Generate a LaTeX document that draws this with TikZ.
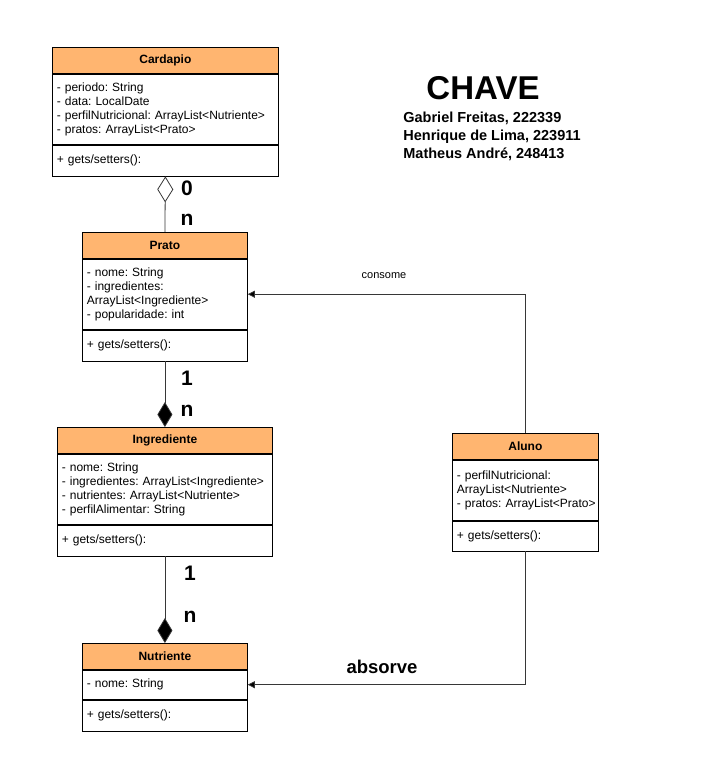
\documentclass[tikz,border=0pt]{standalone}
\usepackage{fontspec}
\setmainfont{Liberation Sans}
\frenchspacing
\hyphenpenalty=10000
\definecolor{headorange}{RGB}{255, 181, 112}
\definecolor{linegray}{RGB}{55, 55, 55}
\usetikzlibrary{arrows.meta, positioning}

\tikzset{
  umlhead/.style={draw=black, fill=headorange, anchor=north west, minimum height=26, inner sep=0pt, font=\fontsize{12}{14}\selectfont\bfseries},
  umlbody/.style={draw=black, fill=white, align=left, inner xsep=4.5pt, inner ysep=0pt, font=\fontsize{12}{14.2}\selectfont},
  mult/.style={font=\fontsize{21}{24}\selectfont\bfseries},
  link/.style={draw=linegray, line width=0.8pt},
}

\begin{document}
\begin{tikzpicture}[x=1pt, y=-1pt, line width=0.8pt]
  \fill[white] (0,0) rectangle (720,781);
  \useasboundingbox (0,0) rectangle (720,781);

  % Cardapio
  \node[umlhead, minimum width=226] (cardapio) at (52,47) {Cardapio};
  \node[umlbody, text width=217, minimum height=70, below=0pt of cardapio] (cardapioattr) {- periodo: String\\- data: LocalDate\\- perfilNutricional: ArrayList<Nutriente>\\- pratos: ArrayList<Prato>};
  \node[umlbody, text width=217, minimum height=31, below=0pt of cardapioattr] (cardapiometh) {+ gets/setters():};

  % Prato
  \node[umlhead, minimum width=165] (prato) at (82,232) {Prato};
  \node[umlbody, text width=156, minimum height=70, below=0pt of prato] (pratoattr) {- nome: String\\- ingredientes:\\ArrayList<Ingrediente>\\- popularidade: int};
  \node[umlbody, text width=156, minimum height=31, below=0pt of pratoattr] (pratometh) {+ gets/setters():};

  % Ingrediente
  \node[umlhead, minimum width=215] (ingrediente) at (57,427) {Ingrediente};
  \node[umlbody, text width=206, minimum height=70, below=0pt of ingrediente] (ingredienteattr) {- nome: String\\- ingredientes: ArrayList<Ingrediente>\\- nutrientes: ArrayList<Nutriente>\\- perfilAlimentar: String};
  \node[umlbody, text width=206, minimum height=31, below=0pt of ingredienteattr] (ingredientemeth) {+ gets/setters():};

  % Nutriente
  \node[umlhead, minimum width=165] (nutriente) at (82,643) {Nutriente};
  \node[umlbody, text width=156, minimum height=29, below=0pt of nutriente] (nutrienteattr) {- nome: String};
  \node[umlbody, text width=156, minimum height=31, below=0pt of nutrienteattr] (nutrientemeth) {+ gets/setters():};

  % Aluno
  \node[umlhead, minimum width=146] (aluno) at (452,433) {Aluno};
  \node[umlbody, text width=137, minimum height=60, below=0pt of aluno] (alunoattr) {- perfilNutricional:\\ArrayList<Nutriente>\\\mbox{- pratos: ArrayList<Prato>}};
  \node[umlbody, text width=137, minimum height=30, below=0pt of alunoattr] (alunometh) {+ gets/setters():};

  % ligacoes
  \draw[link, {Diamond[open, length=26pt, width=16pt]}-] (cardapiometh.south) -- (prato.north);
  \draw[link, -{Diamond[length=25pt, width=15pt, fill=black]}] (pratometh.south) -- (ingrediente.north);
  \draw[link, -{Diamond[length=25pt, width=15pt, fill=black]}] (ingredientemeth.south) -- (nutriente.north);
  \draw[link, -{Triangle[length=7pt, width=7pt, fill=black]}] (aluno.north) |- (pratoattr.east);
  \draw[link, -{Triangle[length=7pt, width=7pt, fill=black]}] (alunometh.south) |- (nutrienteattr.east);

  % multiplicidades
  \node[mult] (multa) at (187,188) {0};
  \node[mult] (multb) at (187,220) {n};
  \node[mult] (multc) at (187,378) {1};
  \node[mult] (multd) at (187,411) {n};
  \node[mult] (multe) at (190,573) {1};
  \node[mult] (multf) at (190,617) {n};

  \node[font=\fontsize{11}{13}\selectfont] (consome) at (384,276) {consome};
  \node[font=\fontsize{18.5}{22}\selectfont\bfseries] (absorve) at (382,667) {absorve};

  % titulo
  \node[font=\fontsize{33}{38}\selectfont\bfseries] (chave) at (483,88) {CHAVE};
  \node[anchor=north west, align=left, inner sep=0pt, font=\fontsize{14.5}{18}\selectfont\bfseries] (autores) at (403,112) {Gabriel Freitas, 222339\\Henrique de Lima, 223911\\Matheus André, 248413};
\end{tikzpicture}
\end{document}
